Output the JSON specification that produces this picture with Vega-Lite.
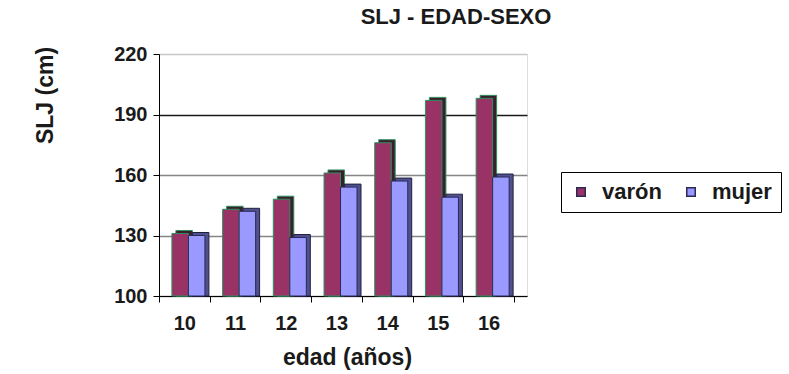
{
  "$schema": "https://vega.github.io/schema/vega-lite/v6.json",
  "width": 368,
  "height": 242,
  "autosize": "none",
  "padding": {"left": 159, "top": 54, "right": 262, "bottom": 78},
  "background": "white",
  "title": {
    "text": "SLJ - EDAD-SEXO",
    "anchor": "middle",
    "dx": 113,
    "offset": 15,
    "font": "Liberation Sans",
    "fontSize": 22,
    "fontWeight": "bold",
    "color": "#1a1a1a"
  },
  "data": {
    "values": [
      {"edad": "10", "sexo": "varón", "slj": 131},
      {"edad": "10", "sexo": "mujer", "slj": 130},
      {"edad": "11", "sexo": "varón", "slj": 143},
      {"edad": "11", "sexo": "mujer", "slj": 142},
      {"edad": "12", "sexo": "varón", "slj": 148},
      {"edad": "12", "sexo": "mujer", "slj": 129},
      {"edad": "13", "sexo": "varón", "slj": 161},
      {"edad": "13", "sexo": "mujer", "slj": 154},
      {"edad": "14", "sexo": "varón", "slj": 176},
      {"edad": "14", "sexo": "mujer", "slj": 157},
      {"edad": "15", "sexo": "varón", "slj": 197},
      {"edad": "15", "sexo": "mujer", "slj": 149},
      {"edad": "16", "sexo": "varón", "slj": 198},
      {"edad": "16", "sexo": "mujer", "slj": 159}
    ]
  },
  "encoding": {
    "x": {
      "field": "edad",
      "type": "ordinal",
      "scale": {"paddingInner": 0, "paddingOuter": 0.129, "align": 0},
      "axis": {
        "labelAngle": 0,
        "tickBand": "extent",
        "domainColor": "#000000",
        "tickColor": "#000000",
        "tickSize": 6,
        "labelPadding": 11,
        "labelFont": "Liberation Sans",
        "labelFontSize": 20,
        "labelFontWeight": "bold",
        "labelColor": "#1a1a1a",
        "title": "edad (años)",
        "titleFont": "Liberation Sans",
        "titleFontSize": 23,
        "titleFontWeight": "bold",
        "titleColor": "#1a1a1a",
        "titleX": 188,
        "titleY": 68,
        "titleAlign": "center",
        "titleBaseline": "alphabetic"
      }
    },
    "y": {
      "field": "slj",
      "type": "quantitative",
      "scale": {"domain": [100, 220], "nice": false, "zero": false},
      "axis": {
        "values": [100, 130, 160, 190, 220],
        "domainColor": "#000000",
        "tickColor": "#000000",
        "tickSize": 6,
        "labelPadding": 6,
        "labelFont": "Liberation Sans",
        "labelFontSize": 20,
        "labelFontWeight": "bold",
        "labelColor": "#1a1a1a",
        "grid": true,
        "gridWidth": 1.5,
        "gridColor": {
          "condition": [
            {"test": "datum.value === 190", "value": "#1a1a1a"},
            {"test": "datum.value === 220", "value": "#c8c8c8"}
          ],
          "value": "#858585"
        },
        "title": "SLJ (cm)",
        "titleFont": "Liberation Sans",
        "titleFontSize": 23,
        "titleFontWeight": "bold",
        "titleColor": "#1a1a1a",
        "titleAngle": -90,
        "titleX": -114,
        "titleY": 41,
        "titleAlign": "center",
        "titleBaseline": "middle"
      }
    },
    "y2": {"datum": 100}
  },
  "layer": [
    {
      "mark": {"type": "bar", "yOffset": -3, "strokeWidth": 1},
      "encoding": {
        "xOffset": {
          "field": "sexo",
          "sort": ["varón", "mujer"],
          "scale": {"paddingInner": 0, "paddingOuter": 0.536, "align": 0.955}
        },
        "fill": {
          "condition": {"test": "datum.sexo === 'varón'", "value": "#3a1f2c"},
          "value": "#50508f"
        },
        "stroke": {
          "condition": {"test": "datum.sexo === 'varón'", "value": "#2f8f5f"},
          "value": "#202040"
        }
      }
    },
    {
      "mark": {"type": "bar", "strokeWidth": 1},
      "encoding": {
        "xOffset": {
          "field": "sexo",
          "sort": ["varón", "mujer"],
          "scale": {"paddingInner": 0, "paddingOuter": 0.536, "align": 0.73}
        },
        "color": {
          "field": "sexo",
          "type": "nominal",
          "sort": ["varón", "mujer"],
          "scale": {"domain": ["varón", "mujer"], "range": ["#993366", "#9999ff"]},
          "legend": {
            "orient": "none",
            "legendX": 402,
            "legendY": 118,
            "direction": "horizontal",
            "title": null,
            "strokeColor": "#000000",
            "padding": 9,
            "symbolType": "square",
            "symbolSize": 72,
            "symbolStrokeWidth": 1.5,
            "labelFont": "Liberation Sans",
            "labelFontSize": 22,
            "labelFontWeight": "bold",
            "labelColor": "#1a1a1a",
            "labelOffset": 10,
            "columnPadding": 18,
            "encode": {
              "symbols": {
                "update": {
                  "stroke": [
                    {"test": "datum.value === 'varón'", "value": "#2f8f5f"},
                    {"value": "#2a2a55"}
                  ]
                }
              }
            }
          }
        },
        "stroke": {
          "condition": {"test": "datum.sexo === 'varón'", "value": "#2f8f5f"},
          "value": "#2a2a55"
        }
      }
    }
  ],
  "resolve": {"scale": {"xOffset": "independent"}}
}
